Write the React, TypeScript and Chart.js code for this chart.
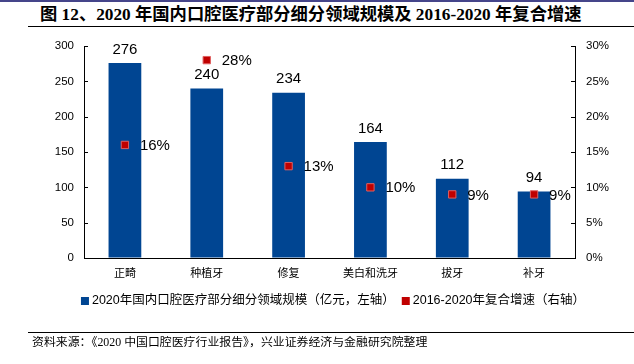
import React, { useEffect, useRef } from "react";
import { Chart, registerables } from "chart.js";

Chart.register(...registerables);

const categories = ["正畸", "种植牙", "修复", "美白和洗牙", "拔牙", "补牙"];
const marketSize = [276, 240, 234, 164, 112, 94];
const cagr = [0.16, 0.28, 0.13, 0.1, 0.09, 0.09];
const cagrLabels = ["16%", "28%", "13%", "10%", "9%", "9%"];
const barLegend = "2020年国内口腔医疗部分细分领域规模（亿元，左轴）";
const lineLegend = "2016-2020年复合增速（右轴）";
const titleText = "图 12、2020 年国内口腔医疗部分细分领域规模及 2016-2020 年复合增速";
const sourceText = "资料来源：《2020 中国口腔医疗行业报告》，兴业证券经济与金融研究院整理";

const BAR_COLOR = "#004592";
const PT_COLOR = "#c00000";
const NUM_FONT = '"Liberation Sans", Arial, sans-serif';
const CJK_FONT = '"Liberation Sans", "Noto Sans CJK SC", sans-serif';

const overlay = {
  id: "overlay",
  afterDatasetsDraw(chart: any) {
    const ctx = chart.ctx;
    ctx.save();
    ctx.fillStyle = "#000";
    ctx.font = `15px ${NUM_FONT}`;
    const barMeta = chart.getDatasetMeta(0);
    ctx.textAlign = "center";
    ctx.textBaseline = "bottom";
    barMeta.data.forEach((el: any, i: number) => {
      ctx.fillText(String(marketSize[i]), el.x, el.y - 6);
    });
    const ptMeta = chart.getDatasetMeta(1);
    ctx.textAlign = "left";
    ctx.textBaseline = "middle";
    ptMeta.data.forEach((el: any, i: number) => {
      ctx.fillText(cagrLabels[i], el.x + 15, el.y + 1);
    });
    ctx.restore();
  },
  afterDraw(chart: any) {
    const ctx = chart.ctx;
    const area = chart.chartArea;
    ctx.save();
    ctx.strokeStyle = "#000";
    ctx.lineWidth = 1;
    const y = chart.scales.y;
    const y1 = chart.scales.y1;
    ctx.beginPath();
    y.ticks.forEach((t: any) => {
      const py = Math.round(y.getPixelForValue(t.value)) + 0.5;
      ctx.moveTo(area.left, py);
      ctx.lineTo(area.left + 4, py);
    });
    y1.ticks.forEach((t: any) => {
      const py = Math.round(y1.getPixelForValue(t.value)) + 0.5;
      ctx.moveTo(area.right, py);
      ctx.lineTo(area.right - 4, py);
    });
    ctx.stroke();

    // legend
    ctx.font = `12.5px ${CJK_FONT}`;
    ctx.textBaseline = "middle";
    ctx.textAlign = "left";
    const box = 8;
    const gap = 3;
    const between = 7;
    const w1 = ctx.measureText(barLegend).width;
    const w2 = ctx.measureText(lineLegend).width;
    const total = box + gap + w1 + between + box + gap + w2;
    let x = 333 - total / 2;
    const ly = 301;
    ctx.fillStyle = BAR_COLOR;
    ctx.fillRect(x, ly - box / 2, box, box);
    x += box + gap;
    ctx.fillStyle = "#000";
    ctx.fillText(barLegend, x, ly);
    x += w1 + between;
    ctx.fillStyle = PT_COLOR;
    ctx.fillRect(x, ly - box / 2, box, box);
    x += box + gap;
    ctx.fillStyle = "#000";
    ctx.fillText(lineLegend, x, ly);
    ctx.restore();
  },
};

export default function App() {
  const ref = useRef<HTMLCanvasElement | null>(null);
  useEffect(() => {
    if (!ref.current) return;
    const chart = new Chart(ref.current, {
      type: "bar",
      data: {
        labels: categories,
        datasets: [
          {
            type: "bar",
            label: barLegend,
            data: marketSize,
            backgroundColor: BAR_COLOR,
            barPercentage: 0.8,
            categoryPercentage: 0.5,
            yAxisID: "y",
            order: 2,
          } as any,
          {
            type: "line",
            label: lineLegend,
            data: cagr,
            showLine: false,
            pointStyle: "rect",
            pointRadius: 5.2,
            pointBackgroundColor: PT_COLOR,
            pointBorderColor: "#e06060",
            pointBorderWidth: 1,
            yAxisID: "y1",
            order: 1,
          } as any,
        ],
      },
      options: {
        animation: false,
        responsive: false,
        maintainAspectRatio: false,
        layout: { padding: { top: 46, left: 0, right: 0, bottom: 0 } },
        plugins: {
          legend: { display: false },
          tooltip: { enabled: false },
        },
        scales: {
          x: {
            grid: { display: true, drawOnChartArea: false, drawTicks: false },
            border: { display: true, color: "#000", width: 1 },
            ticks: {
              padding: 8,
              color: "#000",
              font: { size: 11, family: '"Noto Sans CJK SC", sans-serif' },
              maxRotation: 0,
            },
            afterFit: (s: any) => {
              s.height = 106;
            },
          },
          y: {
            position: "left",
            min: 0,
            max: 300,
            ticks: {
              stepSize: 50,
              padding: 10,
              color: "#000",
              font: { size: 11.5, family: NUM_FONT },
            },
            grid: { display: true, drawOnChartArea: false, drawTicks: false },
            border: { display: true, color: "#000", width: 1 },
            afterFit: (s: any) => {
              s.width = 84;
            },
          },
          y1: {
            position: "right",
            min: 0,
            max: 0.3,
            ticks: {
              stepSize: 0.05,
              padding: 11,
              color: "#000",
              font: { size: 11.5, family: NUM_FONT },
              callback: (v: any) => Math.round(Number(v) * 100) + "%",
            },
            grid: { display: true, drawOnChartArea: false, drawTicks: false },
            border: { display: true, color: "#000", width: 1 },
            afterFit: (s: any) => {
              s.width = 59;
            },
          },
        },
      },
      plugins: [overlay],
    });
    return () => chart.destroy();
  }, []);

  return (
    <div style={{ position: "absolute", left: 0, top: 0, width: 634, height: 364, background: "#fff", overflow: "hidden" }}>
      <div style={{ position: "absolute", left: 0, top: 0, width: 634, height: 2, background: "#45458a" }} />
      <div
        style={{
          position: "absolute",
          left: 40,
          top: 5,
          whiteSpace: "nowrap",
          fontFamily: '"Liberation Serif", "Noto Sans CJK SC", serif',
          fontWeight: "bold",
          fontSize: 17.3,
          lineHeight: "20px",
          color: "#000",
        }}
      >
        {titleText}
      </div>
      <div style={{ position: "absolute", left: 28, top: 26, width: 606, height: 1, background: "#000" }} />
      <canvas ref={ref} width={634} height={364} style={{ position: "absolute", left: 0, top: 0, width: 634, height: 364 }} />
      <div style={{ position: "absolute", left: 28, top: 332, width: 606, height: 1, background: "#000" }} />
      <div
        style={{
          position: "absolute",
          left: 32,
          top: 334,
          whiteSpace: "nowrap",
          fontFamily: '"Liberation Serif", "Noto Sans CJK SC", serif',
          fontSize: 11.9,
          lineHeight: "16px",
          color: "#000",
        }}
      >
        {sourceText}
      </div>
    </div>
  );
}
